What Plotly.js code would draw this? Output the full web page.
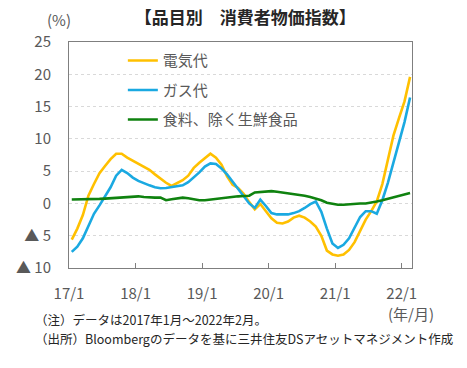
<!DOCTYPE html>
<html>
<head>
<meta charset="utf-8">
<script src="https://cdn.plot.ly/plotly-3.0.1.min.js"></script>
<style>html,body{margin:0;padding:0;background:#fff;}#chart{width:467px;height:368px;}</style>
</head>
<body>
<div id="chart"></div>
<script>
// Monthly data: 2017/1 - 2022/2 (62 months), y/y %
const months = [];
for (let y = 2017; y <= 2022; y++) { for (let m = 1; m <= 12; m++) { if (y === 2022 && m > 2) break; months.push(y + "/" + m); } }

const electricity = [
  -5.6, -3.9, -1.8, 1.2, 3.0, 4.7, 5.8, 6.85, 7.7, 7.7, 7.1, 6.6,
  6.2, 5.7, 5.2, 4.5, 3.8, 3.2, 2.7, 3.1, 3.6, 4.3, 5.5, 6.3,
  7.0, 7.7, 7.1, 6.0, 4.2, 2.9, 2.4, 1.5, 0.2, -0.9, -0.1, -1.2,
  -2.3, -3.0, -3.1, -2.8, -2.2, -1.9, -2.2, -2.8, -3.6, -5.0, -7.3, -7.9,
  -8.1, -7.9, -7.2, -6.0, -4.3, -2.5, -1.2, 0.3, 3.0, 6.8, 10.5, 13.2,
  15.8, 19.6
];
const gas = [
  -7.5, -6.7, -5.4, -3.4, -1.6, -0.3, 1.0, 2.5, 4.3, 5.2, 4.7, 4.0,
  3.5, 3.1, 2.8, 2.5, 2.35, 2.4, 2.5, 2.6, 2.8, 3.3, 4.0, 4.8,
  5.7, 6.2, 6.1, 5.4, 4.5, 3.4, 2.3, 1.1, 0.0, -0.7, 0.6, -0.4,
  -1.5, -1.7, -1.7, -1.7, -1.5, -1.2, -0.7, -0.1, 0.3, -1.3, -3.9, -6.2,
  -6.9, -6.4, -5.4, -3.8, -2.1, -1.2, -1.2, -1.6, 0.5, 3.2, 6.3, 9.4,
  12.6, 16.4
];
const food = [
  0.6, 0.6, 0.6, 0.65, 0.7, 0.7, 0.75, 0.8, 0.85, 0.9, 1.0, 1.0,
  1.1, 1.0, 0.9, 0.9, 0.9, 0.5, 0.65, 0.8, 0.9, 0.8, 0.6, 0.5,
  0.5, 0.6, 0.75, 0.9, 1.0, 1.0, 1.1, 1.15, 1.2, 1.7, 1.75, 1.8,
  1.9, 1.8, 1.7, 1.6, 1.4, 1.3, 1.2, 1.0, 0.8, 0.5, 0.1, -0.1,
  -0.2, -0.2, -0.1, -0.05, 0.0, 0.0, 0.1, 0.3, 0.5, 0.7, 0.9, 1.1,
  1.3, 1.6
];

const seriesNames = ["電気代", "ガス代", "食料、除く生鮮食品"];
const seriesColors = ["#FFC000", "#1AA9E1", "#0F820F"];

const xTickLabels = ["17/1", "18/1", "19/1", "20/1", "21/1", "22/1"];
const yTickVals = [25, 20, 15, 10, 5, 0, -5, -10];
const yTickLabels = ["25", "20", "15", "10", "5", "0", "▲ 5", "▲ 10"];

const idx = months.map((_, i) => i);
const xTickVals = xTickLabels.map((_, k) => 12 * k - 0.5);

const FONT = "'Noto Sans CJK JP', 'Noto Sans', sans-serif";
const GRAY = "#595959";

const traces = [electricity, gas, food].map((vals, i) => ({
  x: idx, y: vals, type: "scatter", mode: "lines",
  name: seriesNames[i], legendgroup: "g" + i,
  line: { color: seriesColors[i], width: 2.6 },
  text: months, hovertemplate: "%{text}: %{y}<extra></extra>"
}));

const layout = {
  width: 467, height: 368,
  margin: { l: 69, r: 55, t: 42, b: 100 },
  paper_bgcolor: "#fff", plot_bgcolor: "#fff",
  font: { family: FONT, size: 15, color: GRAY },
  title: { text: "【品目別　消費者物価指数】", font: { family: FONT, size: 17, color: "#262626", weight: "bold" },
           x: 0.525, xanchor: "center", xref: "container", y: 0.95, yanchor: "middle", yref: "container" },
  showlegend: true,
  legend: { x: 0.157, xanchor: "left", y: 0.99, yanchor: "top", bgcolor: "rgba(0,0,0,0)",
            font: { family: FONT, size: 15, color: GRAY }, tracegroupgap: 7, traceorder: "grouped", itemwidth: 30 },
  xaxis: {
    range: [-0.5, 61.35], tickmode: "array", tickvals: xTickVals, ticktext: xTickLabels,
    ticks: "inside", ticklen: 5, tickcolor: "#7f7f7f", showgrid: false, zeroline: false,
    showline: true, linecolor: "#7f7f7f", linewidth: 1, mirror: true,
    ticklabelstandoff: 12, tickfont: { family: FONT, size: 15, color: GRAY }
  },
  yaxis: {
    range: [-10, 25], tickmode: "array", tickvals: yTickVals, ticktext: yTickLabels,
    ticks: "", showgrid: true, gridcolor: "#d9d9d9", griddash: "dot", gridwidth: 1, zeroline: false,
    showline: true, linecolor: "#7f7f7f", linewidth: 1, mirror: true,
    ticklabelstandoff: 14, tickfont: { family: FONT, size: 15, color: GRAY }
  },
  annotations: [
    { text: "(%)", xref: "paper", yref: "paper", x: -0.03, y: 1.1, xanchor: "center", yanchor: "middle",
      showarrow: false, font: { family: FONT, size: 15, color: GRAY } },
    { text: "(年/月)", xref: "paper", yref: "paper", x: 0.998, y: -0.2, xanchor: "center", yanchor: "middle",
      showarrow: false, font: { family: FONT, size: 15, color: GRAY } },
    { text: "（注）データは2017年1月～2022年2月。", xref: "paper", yref: "paper", x: -0.105, y: -0.226,
      xanchor: "left", yanchor: "middle", showarrow: false, font: { family: FONT, size: 12.5, color: "#262626" } },
    { text: "（出所）Bloombergのデータを基に三井住友DSアセットマネジメント作成", xref: "paper", yref: "paper", x: -0.105, y: -0.312,
      xanchor: "left", yanchor: "middle", showarrow: false, font: { family: FONT, size: 12.5, color: "#262626" } }
  ]
};

Plotly.newPlot("chart", traces, layout, { displayModeBar: false, staticPlot: true });
</script>
</body>
</html>
